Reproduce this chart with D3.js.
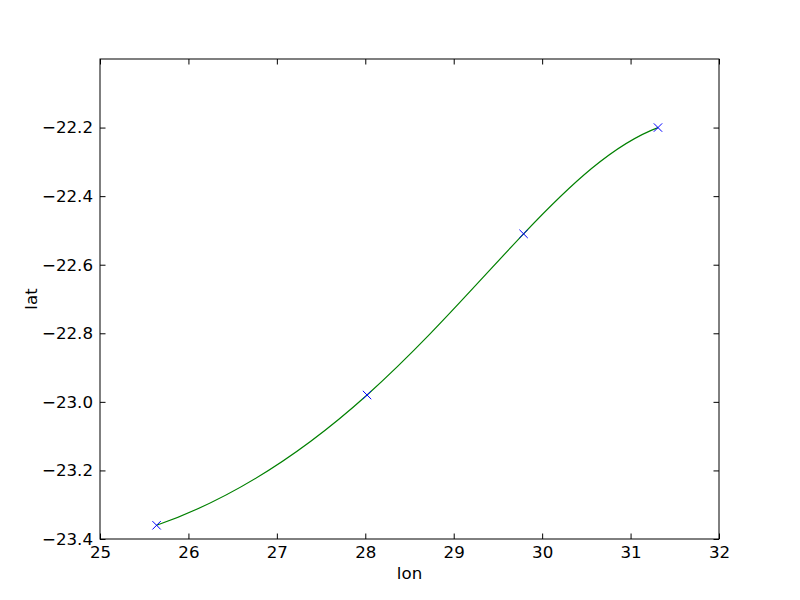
<!DOCTYPE html>
<html lang="en">
<head>
    <meta charset="UTF-8">
    <script type="text/javascript" src="https://cdn.jsdelivr.net/npm/d3@7/dist/d3.min.js"></script>
    <title>lon / lat</title>
    <style>
        body { margin: 0; background: #fff; }
        text { font-family: "DejaVu Sans", sans-serif; }
    </style>
</head>
<body>
<script type="text/javascript">
    // points
    var lon = [25.64, 28.02, 29.79, 31.31];
    var lat = [-23.36, -22.98, -22.51, -22.20];
    var xTicks = [25, 26, 27, 28, 29, 30, 31, 32];
    var yTicks = [-23.4, -23.2, -23.0, -22.8, -22.6, -22.4, -22.2];

    var W = 800, H = 600;
    var x0 = 100, x1 = 719, y0 = 59, y1 = 539;
    var fs = "16.67px";

    var svg = d3.select("body").append("svg")
            .attr("width", W).attr("height", H);

    var x = d3.scaleLinear().domain([25, 32]).range([x0, x1]);
    var y = d3.scaleLinear().domain([-23.4, -22.0]).range([y1, y0]);

    var pts = lon.map(function(d, i){ return [d, lat[i]]; });

    var fmt = function(d){ return d.toFixed(1).replace("-", "\u2212"); };

    // custom d3 curve: one cubic through 4 points, parameter = point index,
    // drawn as three exact bezier pieces
    function curveCubic4(context) {
        var px, py;
        function deriv(p) {
            return [
                (-11 * p[0] + 18 * p[1] - 9 * p[2] + 2 * p[3]) / 6,
                (-2 * p[0] - 3 * p[1] + 6 * p[2] - p[3]) / 6,
                (p[0] - 6 * p[1] + 3 * p[2] + 2 * p[3]) / 6,
                (-2 * p[0] + 9 * p[1] - 18 * p[2] + 11 * p[3]) / 6
            ];
        }
        return {
            areaStart: function(){}, areaEnd: function(){},
            lineStart: function(){ px = []; py = []; },
            point: function(a, b){ px.push(+a); py.push(+b); },
            lineEnd: function(){
                context.moveTo(px[0], py[0]);
                if (px.length !== 4) {
                    for (var j = 1; j < px.length; j++) context.lineTo(px[j], py[j]);
                    return;
                }
                var dx = deriv(px), dy = deriv(py);
                for (var i = 0; i < 3; i++) {
                    context.bezierCurveTo(px[i] + dx[i] / 3, py[i] + dy[i] / 3,
                                          px[i + 1] - dx[i + 1] / 3, py[i + 1] - dy[i + 1] / 3,
                                          px[i + 1], py[i + 1]);
                }
            }
        };
    }

    var line = d3.line()
            .x(function(d){ return x(d[0]); })
            .y(function(d){ return y(d[1]); })
            .curve(curveCubic4);

    svg.append("path")
            .datum(pts)
            .attr("d", line)
            .attr("fill", "none")
            .attr("stroke", "#008000")
            .attr("stroke-width", 1.2);

    // x markers
    var s = 4.2;
    svg.selectAll("path.mark")
            .data(pts)
            .enter()
            .append("path")
            .attr("class", "mark")
            .attr("d", function(d){
                var cx = x(d[0]), cy = y(d[1]);
                return "M" + (cx - s) + "," + (cy - s) + "L" + (cx + s) + "," + (cy + s) +
                       "M" + (cx - s) + "," + (cy + s) + "L" + (cx + s) + "," + (cy - s);
            })
            .attr("stroke", "#0000ff")
            .attr("stroke-width", 1)
            .attr("fill", "none");

    // axes, ticks pointing inwards like matplotlib classic
    var tl = 5.5;
    svg.append("g").attr("transform", "translate(0," + y1 + ")")
            .call(d3.axisBottom(x).tickValues(xTicks).tickSizeInner(-tl).tickSizeOuter(0).tickPadding(7).tickFormat(d3.format("d")));
    svg.append("g").attr("transform", "translate(0," + y0 + ")")
            .call(d3.axisTop(x).tickValues(xTicks).tickSizeInner(-tl).tickSizeOuter(0).tickFormat(""));
    svg.append("g").attr("transform", "translate(" + x0 + ",0)")
            .call(d3.axisLeft(y).tickValues(yTicks).tickSizeInner(-tl).tickSizeOuter(0).tickPadding(7).tickFormat(fmt));
    svg.append("g").attr("transform", "translate(" + x1 + ",0)")
            .call(d3.axisRight(y).tickValues(yTicks).tickSizeInner(-tl).tickSizeOuter(0).tickFormat(""));

    svg.selectAll(".domain").remove();
    svg.selectAll(".tick line").attr("stroke", "#000");
    svg.selectAll(".tick text")
            .attr("fill", "#000")
            .style("font-size", fs);

    svg.append("rect")
            .attr("x", x0).attr("y", y0)
            .attr("width", x1 - x0).attr("height", y1 - y0)
            .attr("fill", "none").attr("stroke", "#000").attr("stroke-width", 1);

    svg.append("text")
            .attr("x", (x0 + x1) / 2).attr("y", 579)
            .attr("text-anchor", "middle")
            .style("font-size", fs)
            .text("lon");
    svg.append("text")
            .attr("transform", "translate(37," + ((y0 + y1) / 2) + ") rotate(-90)")
            .attr("text-anchor", "middle")
            .style("font-size", fs)
            .text("lat");
</script>
</body>
</html>
